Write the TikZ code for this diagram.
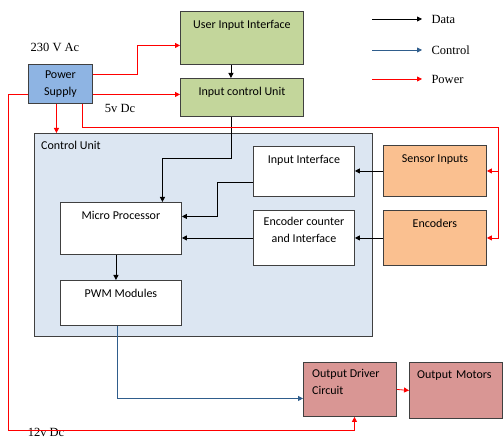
\documentclass[tikz,border=0pt]{standalone}
\usepackage{fontspec}
\setmainfont{Carlito}
\newfontfamily\tms{Liberation Serif}
\usetikzlibrary{arrows.meta}
\definecolor{leafbox}{HTML}{C3D69B}
\definecolor{skybox}{HTML}{8EB4E3}
\definecolor{cubg}{HTML}{DCE6F2}
\definecolor{peach}{HTML}{FAC090}
\definecolor{rose}{HTML}{D99694}
\definecolor{edge}{HTML}{404040}
\definecolor{ctrlblue}{HTML}{2F5D8C}
\definecolor{pwrred}{HTML}{FF0000}

\begin{document}
\begin{tikzpicture}[x=1pt, y=-1pt,
  box/.style={draw=edge, line width=0.9pt, anchor=north west, inner sep=0pt, fill=white,
              font=\fontsize{12}{17}\selectfont, align=center},
  ttl/.style={anchor=base, yshift=-18pt, align=center, inner sep=0pt,
              font=\fontsize{12}{17}\selectfont},
  lft/.style={ttl, anchor=base west, align=left},
  leg/.style={font=\tms\fontsize{12.5}{14}\selectfont, anchor=west},
  data/.style={-{Triangle[length=5pt,width=5pt]}, line width=0.8pt, draw=black},
  ctrl/.style={data, draw=ctrlblue, -{Triangle[length=5pt,width=5pt]}},
  pwr/.style={data, draw=pwrred}]
  \useasboundingbox (0,0) rectangle (503,438);
  % power and user side
  \node[box, fill=skybox, minimum width=64, minimum height=39] (ps) at (28,64) {Power\\Supply};
  \node[box, fill=leafbox, minimum width=123, minimum height=53,
        label={[ttl]north:User Input Interface}] (uii) at (180,11) {};
  \node[box, fill=leafbox, minimum width=123, minimum height=38,
        label={[ttl]north:Input control Unit}] (ic) at (180,78) {};
  % control unit
  \node[box, fill=cubg, minimum width=338, minimum height=203,
        label={[lft, xshift=7pt, yshift=1pt]north west:Control Unit}] (cu) at (34,133) {};
  \node[box, minimum width=121, minimum height=52,
        label={[ttl]north:Micro Processor}] (mp) at (60,202) {};
  \node[box, minimum width=121, minimum height=45,
        label={[ttl]north:PWM Modules}] (pwm) at (60,280) {};
  \node[box, minimum width=101, minimum height=50,
        label={[ttl]north:Input Interface}] (ii) at (253,146) {};
  \node[box, minimum width=101, minimum height=55,
        label={[ttl, yshift=-15pt]north:Encoder counter\\and Interface}] (eci) at (253,210) {};
  % field side
  \node[box, fill=peach, minimum width=103, minimum height=51,
        label={[ttl]north:Sensor Inputs}] (si) at (383,145) {};
  \node[box, fill=peach, minimum width=103, minimum height=55,
        label={[ttl]north:Encoders}] (enc) at (383,210) {};
  \node[box, fill=rose, minimum width=93, minimum height=54,
        label={[lft, xshift=9pt, yshift=-14pt]north west:Output Driver\\Circuit}] (od) at (303,362) {};
  \node[box, fill=rose, minimum width=93, minimum height=56,
        label={[lft, xshift=8pt, yshift=2pt]north west:Output\,\,Motors}] (om) at (409,362) {};
  % voltage texts
  \node[leg, anchor=center] (vac) at (55,47) {230 V Ac};
  \node[leg, anchor=center] (v5) at (120,108) {5v Dc};
  \node[leg, anchor=center] (v12) at (46,432) {12v Dc};
  % legend
  \node[leg] (ldata) at (428,19) {Data};
  \node[leg] (lctrl) at (428,50) {Control};
  \node[leg] (lpwr) at (428,79) {Power};
  \draw[data] ([xshift=-56pt]ldata.west) -- ([xshift=-6pt]ldata.west);
  \draw[ctrl] ([xshift=-56pt]lctrl.west) -- ([xshift=-6pt]lctrl.west);
  \draw[pwr] ([xshift=-56pt]lpwr.west) -- ([xshift=-6pt]lpwr.west);
  % data paths
  \draw[data] ([xshift=-11pt]uii.south) -- ([xshift=-11pt]ic.north);
  \draw[data] ([xshift=-11pt]ic.south) -- ++(0,42) -| ([xshift=41.5pt]mp.north);
  \draw[data] ([yshift=-11pt]ii.west) -- ++(-36,0) |- ([yshift=12pt]mp.east);
  \draw[data] (eci.west) -- (eci.west -| mp.east);
  \draw[data] ([xshift=-5pt]mp.south) -- ([xshift=-5pt]pwm.north);
  \draw[data] (si.west) -- (si.west -| ii.east);
  \draw[data] (enc.west) -- (enc.west -| eci.east);
  \draw[ctrl] ([xshift=-4pt]pwm.south) |- ([yshift=-9pt]od.west);
  % power paths
  \coordinate (pbus) at (498,127);
  \coordinate (pgnd) at (8,430);
  \draw[pwr] ([yshift=9.5pt]ps.east) -- ++(44,0) |- ([yshift=-7.5pt]uii.west);
  \draw[pwr] ([yshift=-10.5pt]ps.east) -- ([yshift=-10.5pt]ps.east -| ic.west);
  \draw[pwr] ([xshift=-4pt]ps.south) -- ([xshift=-4pt]ps.south |- cu.north);
  \draw[pwr] ([xshift=22pt]ps.south) |- (pbus) |- (enc.east);
  \draw[pwr] (pbus |- si.east) -- (si.east);
  \draw[pwr] ([yshift=-10.5pt]ps.west) -| (pgnd) -| ([xshift=4.5pt]od.south);
  \draw[pwr] (od.east) -- (om.west);
\end{tikzpicture}
\end{document}
